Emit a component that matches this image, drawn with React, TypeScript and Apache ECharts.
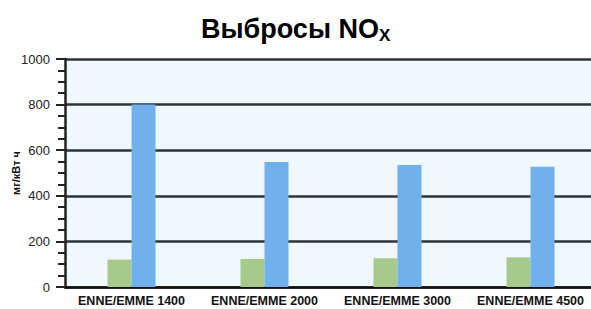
import React, { useEffect, useRef } from "react";
import * as echarts from "echarts";

const categories = ["ENNE/EMME 1400", "ENNE/EMME 2000", "ENNE/EMME 3000", "ENNE/EMME 4500"];
const greenValues = [120, 123, 126, 130];
const blueValues = [800, 548, 535, 527];
const yMin = 0;
const yMax = 1000;
const yInterval = 200;

export default function App() {
  const ref = useRef<HTMLDivElement>(null);
  useEffect(() => {
    document.body.style.margin = "0";
    const chart = echarts.init(ref.current!, null, { renderer: "svg" });
    chart.setOption({
      animation: false,
      backgroundColor: "#ffffff",
      title: {
        text: "{a|Выбросы NO}{b|X}",
        left: 196,
        top: 9,
        textStyle: {
          rich: {
            a: { fontFamily: "Liberation Sans", fontWeight: "bold", fontSize: 27, color: "#000" },
            b: { fontFamily: "Liberation Sans", fontWeight: "bold", fontSize: 17, color: "#000", padding: [13, 0, 0, 0] },
          },
        },
      },
      grid: {
        left: 65,
        top: 59,
        width: 532,
        height: 228,
        show: true,
        backgroundColor: "#eff8fc",
        borderWidth: 0,
        containLabel: false,
        outerBoundsMode: "none",
      },
      xAxis: {
        type: "category",
        data: categories,
        axisLine: { lineStyle: { color: "#111", width: 2.5 } },
        axisTick: { show: false },
        axisLabel: {
          interval: 0,
          margin: 7,
          fontFamily: "Liberation Sans",
          fontWeight: 900,
          fontSize: 12.5,
          color: "#111",
        },
      },
      yAxis: {
        type: "value",
        min: yMin,
        max: yMax,
        interval: yInterval,
        name: "мг/кВт ч",
        nameLocation: "middle",
        nameGap: 44,
        nameMoveOverlap: false,
        nameTextStyle: { fontFamily: "Liberation Sans", fontWeight: "bold", fontSize: 11, color: "#111" },
        axisLine: { show: true, lineStyle: { color: "#222", width: 2.5 } },
        axisTick: { show: true, length: 9, lineStyle: { color: "#222", width: 2 } },
        minorTick: { show: true, splitNumber: 4, length: 7, lineStyle: { color: "#222", width: 2 } },
        splitLine: { show: true, lineStyle: { color: "#2f3436", width: 2.5 } },
        axisLabel: {
          margin: 15,
          fontFamily: "Liberation Sans Narrow, Liberation Sans",
          fontSize: 13,
          color: "#222",
          formatter: (v: number) => String(v),
        },
      },
      series: [
        {
          type: "bar",
          data: greenValues,
          barWidth: 24,
          barGap: "0%",
          itemStyle: { color: "#a6c98c" },
        },
        {
          type: "bar",
          data: blueValues,
          barWidth: 24,
          barGap: "0%",
          itemStyle: { color: "#70b0ec" },
        },
      ],
    });
    return () => chart.dispose();
  }, []);
  return <div ref={ref} style={{ width: 591, height: 309 }} />;
}
